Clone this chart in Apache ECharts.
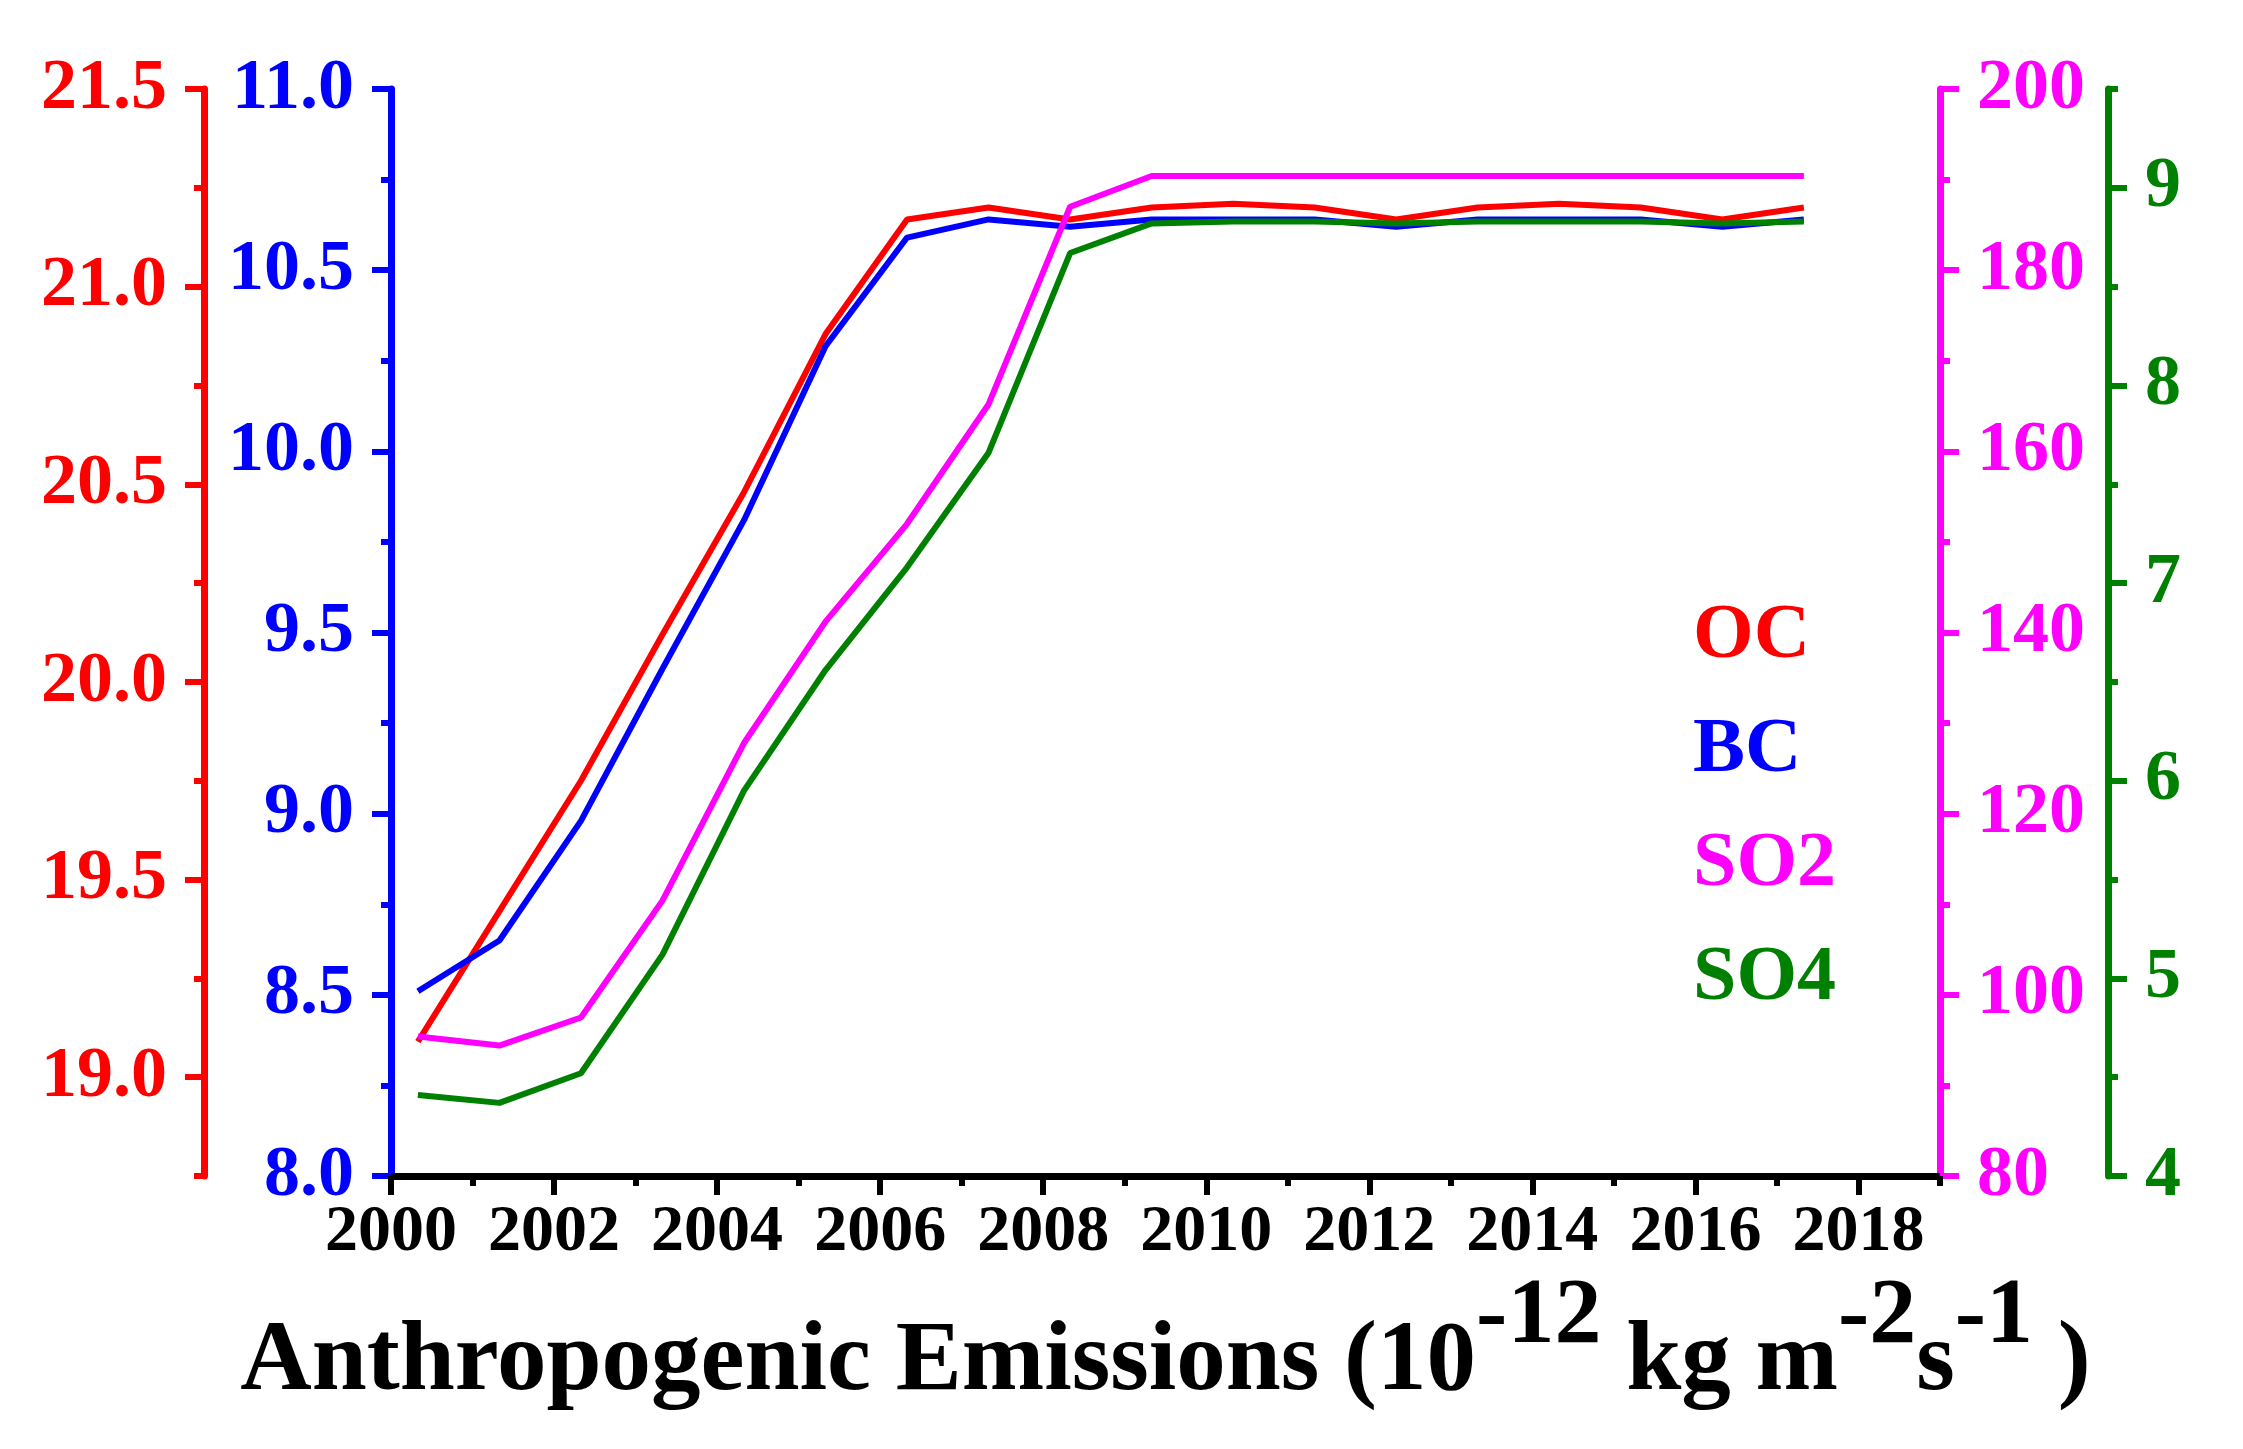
<!DOCTYPE html>
<html>
<head>
<meta charset="utf-8">
<script src="https://cdn.jsdelivr.net/npm/echarts@6/dist/echarts.min.js"></script>
<style>
  html, body { margin: 0; padding: 0; background: #fff; }
  #chart { width: 2243px; height: 1449px; }
</style>
</head>
<body>
<div id="chart"></div>
<script>
// years of each point (data sit a bit after the year tick)
const years = [2000.33, 2001.33, 2002.33, 2003.33, 2004.33, 2005.33, 2006.33, 2007.33, 2008.33,
               2009.33, 2010.33, 2011.33, 2012.33, 2013.33, 2014.33, 2015.33, 2016.33, 2017.33];

const ocValues  = [19.09, 19.42, 19.75, 20.12, 20.48, 20.88, 21.17, 21.20, 21.17,
                   21.20, 21.21, 21.20, 21.17, 21.20, 21.21, 21.20, 21.17, 21.20];
const bcValues  = [8.51, 8.65, 8.98, 9.40, 9.81, 10.29, 10.59, 10.64, 10.62,
                   10.64, 10.64, 10.64, 10.62, 10.64, 10.64, 10.64, 10.62, 10.64];
const so2Values = [95.4, 94.4, 97.5, 110.4, 127.8, 141.2, 152.0, 165.2, 187.0,
                   190.4, 190.4, 190.4, 190.4, 190.4, 190.4, 190.4, 190.4, 190.4];
const so4Values = [4.41, 4.37, 4.52, 5.12, 5.95, 6.56, 7.08, 7.66, 8.67,
                   8.82, 8.83, 8.83, 8.82, 8.83, 8.83, 8.83, 8.82, 8.83];

// tick positions
const xMajor = [2000, 2002, 2004, 2006, 2008, 2010, 2012, 2014, 2016, 2018];
const xMinor = [2001, 2003, 2005, 2007, 2009, 2011, 2013, 2015, 2017, 2019];
const ocMajor = [19.0, 19.5, 20.0, 20.5, 21.0, 21.5];
const ocMinor = [18.75, 19.25, 19.75, 20.25, 20.75, 21.25];
const bcMajor = [8.0, 8.5, 9.0, 9.5, 10.0, 10.5, 11.0];
const bcMinor = [8.25, 8.75, 9.25, 9.75, 10.25, 10.75];
const so2Major = [80, 100, 120, 140, 160, 180, 200];
const so2Minor = [90, 110, 130, 150, 170, 190];
const so4Major = [4, 5, 6, 7, 8, 9];
const so4Minor = [4.5, 5.5, 6.5, 7.5, 8.5, 9.5];

const FONT = 'Liberation Serif';
const RED = '#ff0000', BLUE = '#0000ff', MAGENTA = '#ff00ff', GREEN = '#008000';

function yAxisPair(color, position, offset, min, max, major, minor, fmt) {
    let main = {
        type: 'value', position: position, offset: offset, min: min, max: max,
        splitLine: { show: false },
        axisLine: { show: true, lineStyle: { color: color, width: 7 } },
        axisTick: { show: true, length: 19, customValues: major, lineStyle: { color: color, width: 6 } },
        axisLabel: {
            customValues: major, margin: 37, color: color,
            fontFamily: FONT, fontWeight: 'bold', fontSize: 72,
            formatter: fmt
        }
    };
    let sub = {
        type: 'value', position: position, offset: offset, min: min, max: max,
        splitLine: { show: false },
        axisLine: { show: false },
        axisTick: { show: true, length: 10, customValues: minor, lineStyle: { color: color, width: 6 } },
        axisLabel: { show: false }
    };
    return [main, sub];
}

let chart = echarts.init(document.getElementById('chart'));

let yAxes = [].concat(
    yAxisPair(BLUE, 'left', 0, 8, 11, bcMajor, bcMinor, v => v.toFixed(1)),
    yAxisPair(RED, 'left', 187, 18.75, 21.5, ocMajor, ocMinor, v => v.toFixed(1)),
    yAxisPair(MAGENTA, 'right', 0, 80, 200, so2Major, so2Minor, v => String(v)),
    yAxisPair(GREEN, 'right', 168, 4, 9.5, so4Major, so4Minor, v => String(v))
);

let titleRich = {
    b: { fontFamily: FONT, fontWeight: 'bold', fontSize: 99, lineHeight: 96, verticalAlign: 'bottom', color: '#000' },
    s: { fontFamily: FONT, fontWeight: 'bold', fontSize: 94, lineHeight: 96, verticalAlign: 'bottom', color: '#000', padding: [0, 0, 48, 0] }
};

function pairs(vals) {
    return years.map((x, i) => [x, vals[i]]);
}

function lineSeries(name, color, yIndex, vals) {
    return {
        name: name, type: 'line', xAxisIndex: 0, yAxisIndex: yIndex,
        data: pairs(vals), symbol: 'none', color: color,
        lineStyle: { color: color, width: 6 }
    };
}

let option = {
    animation: false,
    backgroundColor: '#fff',
    grid: { left: 391, right: 303, top: 89, bottom: 273 },
    legend: {
        orient: 'vertical', left: 1687, top: 598, padding: 0,
        itemWidth: 0, itemHeight: 0, itemGap: 36,
        selectedMode: false,
        itemStyle: { opacity: 0 }, lineStyle: { opacity: 0 },
        textStyle: { fontFamily: FONT, fontWeight: 'bold', fontSize: 78, lineHeight: 78 },
        data: [
            { name: 'OC', textStyle: { color: RED } },
            { name: 'BC', textStyle: { color: BLUE } },
            { name: 'SO2', textStyle: { color: MAGENTA } },
            { name: 'SO4', textStyle: { color: GREEN } }
        ]
    },
    xAxis: [
        {
            type: 'value', position: 'bottom', min: 2000, max: 2019,
            splitLine: { show: false },
            axisLine: { show: true, lineStyle: { color: '#000', width: 7 } },
            axisTick: { show: true, length: 19, customValues: xMajor, lineStyle: { color: '#000', width: 6 } },
            axisLabel: {
                customValues: xMajor, margin: 24, color: '#000',
                fontFamily: FONT, fontWeight: 'bold', fontSize: 66,
                formatter: v => String(v)
            },
            name: '{b|Anthropogenic Emissions (10}{s|-12}{b| kg m}{s|-2}{b|s}{s|-1}{b| )}',
            nameLocation: 'middle', nameGap: 110,
            nameTextStyle: { rich: titleRich }
        },
        {
            type: 'value', position: 'bottom', min: 2000, max: 2019,
            splitLine: { show: false },
            axisLine: { show: false },
            axisTick: { show: true, length: 10, customValues: xMinor, lineStyle: { color: '#000', width: 6 } },
            axisLabel: { show: false }
        }
    ],
    yAxis: yAxes,
    series: [
        lineSeries('OC', RED, 2, ocValues),
        lineSeries('BC', BLUE, 0, bcValues),
        lineSeries('SO2', MAGENTA, 4, so2Values),
        lineSeries('SO4', GREEN, 6, so4Values)
    ]
};

chart.setOption(option);
</script>
</body>
</html>
